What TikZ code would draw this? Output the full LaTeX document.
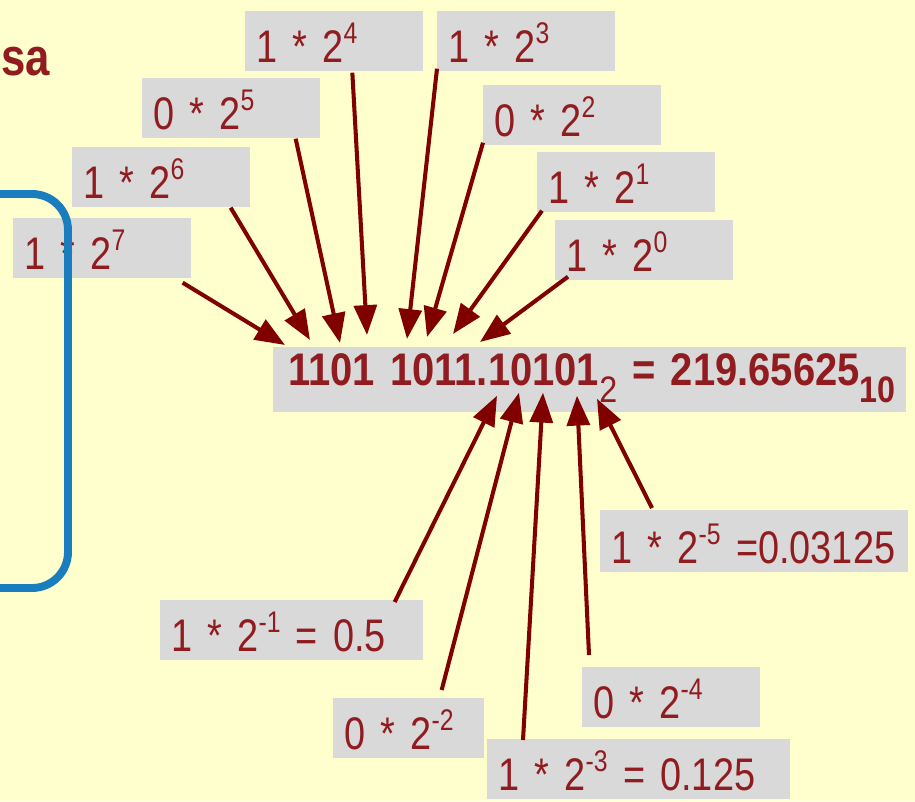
\documentclass[tikz,border=0pt]{standalone}
\usepackage{fontspec}
\setmainfont{Liberation Sans}[FakeStretch=0.83]
\newfontfamily\sumfont{Liberation Sans}[FakeStretch=0.875]
\usetikzlibrary{arrows.meta}

\definecolor{paper}{RGB}{255,255,206}
\definecolor{boxgray}{RGB}{217,217,217}
\definecolor{termred}{RGB}{145,28,32}
\definecolor{arrowred}{RGB}{128,0,0}
\definecolor{frameblue}{RGB}{25,125,190}

% raised exponent and lowered base
\newcommand{\pw}[1]{\raisebox{11pt}{\fontsize{17}{17}\selectfont #1}}
\newcommand{\bsub}[1]{\raisebox{-9.5pt}{\fontsize{21}{21}\selectfont #1}}

\begin{document}
\begin{tikzpicture}[x=0.02cm,y=-0.02cm,
    term/.style={fill=boxgray,text=termred,anchor=north west,inner xsep=0.22cm,inner ysep=0pt,
      text width=3.12cm,align=left,text height=1.02cm,text depth=0.18cm,
      font=\fontsize{26}{30}\selectfont},
    sumbox/.style={term,inner xsep=0.3cm,text width=12.06cm,text height=0.76cm,text depth=0.54cm,
      font=\fontsize{26}{30}\sumfont\bfseries},
    arr/.style={draw=arrowred,line width=2.3pt,-{Triangle[length=17pt,width=13pt]}},
    frame/.style={draw=frameblue,line width=4.5pt,rounded corners=0.72cm}]
	% background
	\fill[paper] (0,0) rectangle (915,801);
	\useasboundingbox (0,0) rectangle (915,801);
	
	\node[font=\fontsize{30}{30}\selectfont\bfseries,text=termred,anchor=base west,inner sep=0pt] (word) at (1,75) {sa};
	
	% integer part
	\node[term] (t4) at (245,11) {1 * 2\pw{4}};
	\node[term] (t3) at (437,11) {1 * 2\pw{3}};
	\node[term] (t5) at (142,78) {0 * 2\pw{5}};
	\node[term] (t2) at (483,85) {0 * 2\pw{2}};
	\node[term] (t6) at (72,147) {1 * 2\pw{6}};
	\node[term] (t1) at (537,152) {1 * 2\pw{1}};
	\node[term] (t7) at (13,218) {1 * 2\pw{7}};
	\node[term] (t0) at (555,220) {1 * 2\pw{0}};
	
	\node[sumbox] (main) at (273,347) {\mbox{1101 1011.10101\bsub{\mdseries 2} = 219.65625\bsub{10}}};
	
	% fraction part
	\node[term,text width=5.72cm,text height=1.06cm] (f5) at (600,510) {1 * 2\pw{-5} =0.03125};
	\node[term,text width=4.82cm] (f1) at (160,600) {1 * 2\pw{-1} = 0.5};
	\node[term,text width=5.62cm] (f3) at (487,739) {1 * 2\pw{-3} = 0.125};
	\node[term,text width=2.58cm] (f2) at (333,698) {0 * 2\pw{-2}};
	\node[term] (f4) at (582,667) {0 * 2\pw{-4}};
	
	\draw[frame] (-40,194) rectangle (68,588);
	
	\draw[arr] ([shift={(-9,4)}]t7.south east) -- ([shift={(12,-2)}]main.north west);
	\draw[arr] ([shift={(-20,0)}]t6.south east) -- ([shift={(37,-7)}]main.north west);
	\draw[arr] ([shift={(-25,0)}]t5.south east) -- ([shift={(67,-4)}]main.north west);
	\draw[arr] ([shift={(18,1)}]t4.south) -- ([shift={(94,-12)}]main.north west);
	\draw[arr] ([shift={(0,-3)}]t3.south west) -- ([shift={(134,-8)}]main.north west);
	\draw[arr] ([shift={(0,-3)}]t2.south west) -- ([shift={(154,-10)}]main.north west);
	\draw[arr] ([shift={(5,-2)}]t1.south west) -- ([shift={(180,-13)}]main.north west);
	\draw[arr] ([shift={(13,-4)}]t0.south west) -- ([shift={(207,-5)}]main.north west);
	
	\draw[arr] ([shift={(-29,2)}]f1.north east) -- ([shift={(224,-17)}]main.south west);
	\draw[arr] ([shift={(-43,-8)}]f2.north east) -- ([shift={(246,-20)}]main.south west);
	\draw[arr] ([shift={(36,1)}]f3.north west) -- ([shift={(270,-20)}]main.south west);
	\draw[arr] ([shift={(7,-12)}]f4.north west) -- ([shift={(304,-17)}]main.south west);
	\draw[arr] ([shift={(52,-2)}]f5.north west) -- ([shift={(324,-14)}]main.south west);
\end{tikzpicture}
\end{document}
